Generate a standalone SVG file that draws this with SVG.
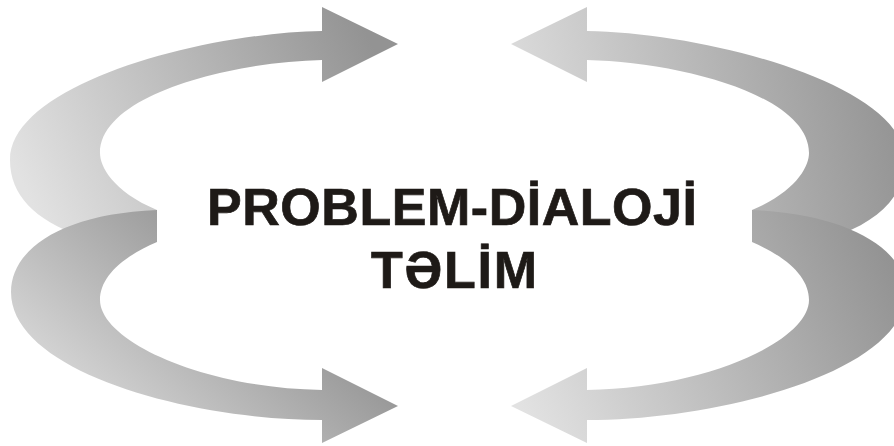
<svg xmlns="http://www.w3.org/2000/svg" width="894" height="446" viewBox="0 0 894 446">
  <defs>
    <linearGradient id="gTL" gradientUnits="userSpaceOnUse" x1="30" y1="200" x2="370" y2="40">
      <stop offset="0" stop-color="#e2e2e2"/>
      <stop offset="1" stop-color="#939393"/>
    </linearGradient>
    <linearGradient id="gBL" gradientUnits="userSpaceOnUse" x1="40" y1="400" x2="200" y2="220">
      <stop offset="0" stop-color="#dedede"/>
      <stop offset="1" stop-color="#979797"/>
    </linearGradient>
    <linearGradient id="gTR" gradientUnits="userSpaceOnUse" x1="520" y1="140" x2="890" y2="60">
      <stop offset="0" stop-color="#dcdcdc"/>
      <stop offset="1" stop-color="#939393"/>
    </linearGradient>
    <linearGradient id="gBR" gradientUnits="userSpaceOnUse" x1="520" y1="406" x2="880" y2="240">
      <stop offset="0" stop-color="#e2e2e2"/>
      <stop offset="1" stop-color="#939393"/>
    </linearGradient>
  </defs>
  <style>
    .arrow { stroke: none; }
    .title { font-family: "Liberation Sans", Arial, sans-serif; font-weight: bold; font-size: 52px; fill: #1e1a17; stroke: #1e1a17; stroke-width: 0.7px; text-anchor: middle; }
  </style>
  <rect width="894" height="446" fill="#ffffff"/>
  <g id="arrow-top-left">
    <path class="arrow" fill="url(#gTL)" d="M322,7 L398,44 L322,82 L322,60 C230,62 100,95 100,153 C100,166 112,191 157,210 L80,236 C35,220 10,195 10,160 C10,85 200,33 322,31 Z"/>
  </g>
  <g id="arrow-bottom-left">
    <path class="arrow" fill="url(#gBL)" d="M322,368 L398,406 L322,443 L322,420 C190,420 11,372 11,292 C11,250 60,214 157,210 L157,242 C120,258 100,278 100,300 C100,340 200,388 322,390 Z"/>
  </g>
  <g id="arrow-top-right">
    <path class="arrow" fill="url(#gTR)" d="M587,7 L511,44 L587,82 L587,60 C679,62 809,95 809,153 C809,166 797,191 752,210 L830,238 C880,222 905,195 905,160 C905,85 709,33 587,31 Z"/>
  </g>
  <g id="arrow-bottom-right">
    <path class="arrow" fill="url(#gBR)" d="M587,368 L511,406 L587,443 L587,420 C719,420 906,372 906,292 C906,250 849,214 752,210 L752,242 C789,258 809,278 809,300 C809,340 709,388 587,390 Z"/>
  </g>
  <g id="title">
    <text class="title" x="452" y="225" textLength="490" lengthAdjust="spacing">PROBLEM-DİALOJİ</text>
    <text class="title" x="454" y="288" textLength="166" lengthAdjust="spacing">TƏLİM</text>
  </g>
</svg>
